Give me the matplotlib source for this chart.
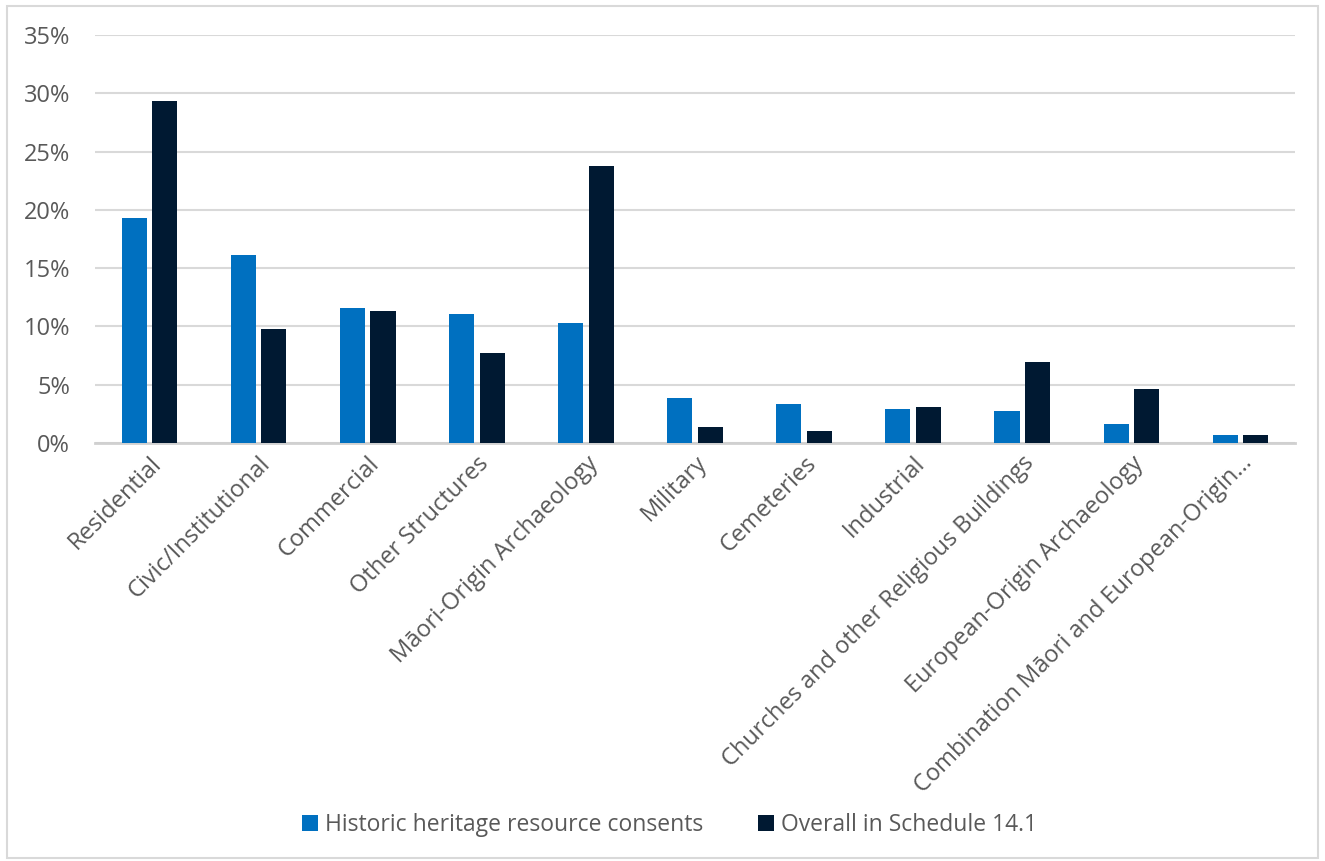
import numpy as np
import matplotlib
matplotlib.use("Agg")
import matplotlib.pyplot as plt
from matplotlib.patches import Rectangle
from matplotlib.ticker import FuncFormatter, MultipleLocator

plt.rcParams.update({
    "font.family": ["Open Sans", "DejaVu Sans"],
    "font.size": 16,
})

# ── Data ──────────────────────────────────────────────────────────────────
categories = [
    "Residential", "Civic/Institutional", "Commercial", "Other Structures",
    "Māori-Origin Archaeology", "Military", "Cemeteries", "Industrial",
    "Churches and other Religious Buildings", "European-Origin Archaeology",
    "Combination Māori and European-Origin…",
]
consents = [19.3, 16.1, 11.6, 11.1, 10.3, 3.9, 3.35, 2.95, 2.75, 1.65, 0.7]
schedule = [29.3, 9.8, 11.3, 7.7, 23.8, 1.4, 1.0, 3.05, 6.95, 4.6, 0.65]
series_names = ["Historic heritage resource consents", "Overall in Schedule 14.1"]

BLUE, NAVY, GRID, TXT = "#0070C0", "#001932", "#D9D9D9", "#595959"

fig = plt.figure(figsize=(13.25, 8.61), dpi=100)
ax = fig.add_axes([0.0717, 0.4855, 0.9057, 0.4738])

x = np.arange(len(categories))
w = 0.23
ax.bar(x - 0.14, consents, w, color=BLUE, label=series_names[0], zorder=3)
ax.bar(x + 0.14, schedule, w, color=NAVY, label=series_names[1], zorder=3)

ax.set_xlim(-0.5, len(categories) - 0.5)
ax.set_ylim(0, 35)
ax.yaxis.set_major_locator(MultipleLocator(5))
ax.yaxis.set_major_formatter(FuncFormatter(lambda v, _: f"{v:.0f}%"))
ax.grid(axis="y", color=GRID, lw=1.5, zorder=0)
for s in ["top", "right", "left"]:
    ax.spines[s].set_visible(False)
ax.spines["bottom"].set_color("#D0D0D0")
ax.spines["bottom"].set_linewidth(2)
ax.tick_params(axis="y", length=0, pad=18, labelsize=17, labelcolor=TXT)
ax.tick_params(axis="x", length=0, pad=6)
ax.set_xticks(x)
ax.set_xticklabels(categories, rotation=45, ha="right", rotation_mode="anchor",
                   fontsize=17, color=TXT)

fig.legend(loc="center", bbox_to_anchor=(0.505, 0.042), ncol=2, frameon=False,
           handlelength=0.7, handleheight=0.7, handletextpad=0.3,
           columnspacing=2.4, fontsize=16.5, labelcolor=TXT)

fig.patches.append(Rectangle((7 / 1325, 3 / 861), 1311 / 1325, 852 / 861,
                             transform=fig.transFigure, fill=False,
                             edgecolor=GRID, lw=1.5))

plt.savefig("out.png", dpi=100)
plt.close()
